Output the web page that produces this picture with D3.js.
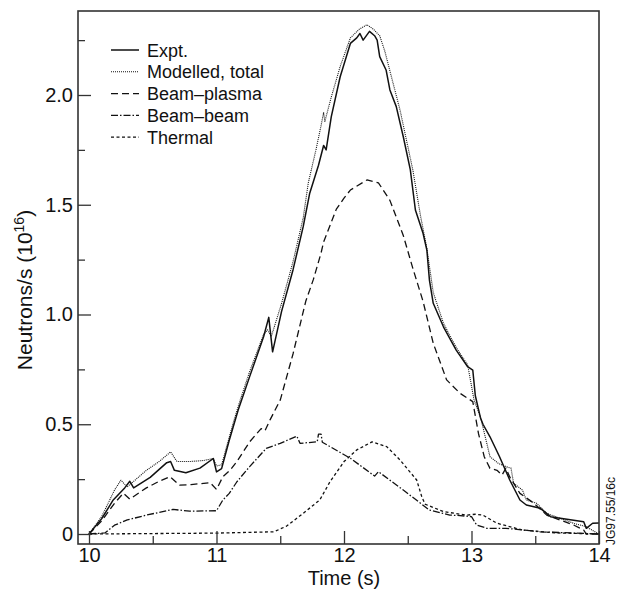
<!DOCTYPE html>
<html>
<head>
<meta charset="utf-8">
<script src="https://cdn.jsdelivr.net/npm/d3@7"></script>
<style>
body { margin: 0; background: #fff; }
text { font-family: "Liberation Sans", Arial, sans-serif; fill: #111; }
</style>
</head>
<body>
<script>
// neutron rate traces, [time (s), rate (1e16 /s)]
var expt = [[10.0,0],[10.1,0.07],[10.19,0.155],[10.28,0.21],[10.32,0.24],[10.35,0.21],[10.48,0.258],
  [10.61,0.325],[10.64,0.33],[10.67,0.29],[10.76,0.279],[10.87,0.3],[10.975,0.344],[11.0,0.283],
  [11.04,0.298],[11.1,0.427],[11.17,0.565],[11.26,0.717],[11.37,0.9],[11.41,0.987],[11.44,0.83],
  [11.51,1.013],[11.6,1.203],[11.68,1.4],[11.73,1.55],[11.8,1.68],[11.84,1.77],[11.86,1.75],
  [11.9,1.9],[11.97,2.083],[12.05,2.235],[12.1,2.26],[12.125,2.28],[12.15,2.25],[12.2,2.29],
  [12.24,2.27],[12.26,2.25],[12.28,2.175],[12.33,2.114],[12.36,2.023],[12.41,1.947],[12.465,1.81],
  [12.52,1.66],[12.56,1.476],[12.62,1.37],[12.65,1.294],[12.67,1.157],[12.7,1.051],[12.78,0.944],
  [12.88,0.838],[12.97,0.762],[13.01,0.747],[13.03,0.63],[13.07,0.53],[13.09,0.5],[13.145,0.443],
  [13.22,0.352],[13.3,0.246],[13.38,0.155],[13.43,0.132],[13.54,0.117],[13.62,0.079],[13.67,0.074],
  [13.88,0.056],[13.9,0.026],[13.95,0.049],[14.0,0.05]];

var modelled = [[10.0,0],[10.1,0.08],[10.2,0.2],[10.25,0.245],[10.3,0.215],[10.35,0.24],[10.45,0.29],
  [10.55,0.33],[10.64,0.374],[10.69,0.33],[10.79,0.33],[10.9,0.335],[10.975,0.344],[11.0,0.31],
  [11.04,0.315],[11.13,0.504],[11.18,0.6],[11.26,0.74],[11.37,0.91],[11.4,0.93],[11.43,0.9],
  [11.51,1.05],[11.6,1.24],[11.68,1.44],[11.72,1.6],[11.78,1.75],[11.82,1.86],[11.84,1.92],
  [11.85,1.88],[11.9,1.99],[11.97,2.13],[12.05,2.26],[12.12,2.3],[12.18,2.32],[12.23,2.3],[12.28,2.27],
  [12.32,2.2],[12.36,2.11],[12.44,1.93],[12.54,1.658],[12.6,1.45],[12.65,1.3],[12.7,1.1],
  [12.78,0.96],[12.88,0.85],[12.97,0.77],[13.02,0.61],[13.07,0.534],[13.12,0.413],[13.145,0.352],
  [13.21,0.322],[13.27,0.307],[13.31,0.3],[13.33,0.231],[13.4,0.2],[13.43,0.155],[13.51,0.14],
  [13.59,0.094],[13.8,0.049],[13.9,0.033],[14.0,0.0]];

var beamPlasma = [[10.0,0],[10.1,0.06],[10.2,0.14],[10.27,0.186],[10.32,0.159],[10.45,0.21],
  [10.55,0.24],[10.635,0.261],[10.71,0.223],[10.8,0.225],[10.95,0.234],[11.0,0.203],[11.05,0.261],
  [11.106,0.29],[11.16,0.33],[11.26,0.42],[11.35,0.48],[11.38,0.47],[11.42,0.52],[11.5,0.61],
  [11.6,0.82],[11.7,1.06],[11.76,1.16],[11.82,1.28],[11.84,1.33],[11.94,1.48],[12.0,1.53],
  [12.05,1.567],[12.18,1.613],[12.27,1.6],[12.36,1.52],[12.465,1.36],[12.54,1.21],[12.62,1.06],
  [12.7,0.869],[12.805,0.702],[12.91,0.641],[13.01,0.603],[13.055,0.457],[13.1,0.352],
  [13.145,0.299],[13.2,0.29],[13.24,0.269],[13.27,0.3],[13.3,0.26],[13.38,0.185],[13.49,0.14],
  [13.59,0.086],[13.8,0.041],[13.88,0.018],[13.9,0],[14.0,0]];

var beamBeam = [[10.0,0],[10.125,0.005],[10.2,0.04],[10.3,0.064],[10.45,0.086],[10.66,0.112],
  [10.79,0.104],[11.0,0.106],[11.05,0.155],[11.1,0.185],[11.16,0.238],[11.26,0.307],[11.39,0.39],
  [11.5,0.413],[11.63,0.446],[11.655,0.413],[11.79,0.42],[11.8,0.455],[11.82,0.455],[11.83,0.418],
  [12.05,0.345],[12.24,0.264],[12.27,0.284],[12.465,0.2],[12.67,0.109],[12.83,0.086],[12.91,0.084],
  [13.0,0.079],[13.04,0.041],[13.12,0.026],[13.27,0.026],[13.54,0.01],[14.0,0]];

var thermal = [[10.0,0],[10.5,0.002],[11.0,0.004],[11.45,0.01],[11.55,0.036],[11.68,0.094],
  [11.81,0.155],[11.89,0.238],[12.0,0.33],[12.1,0.383],[12.22,0.42],[12.335,0.398],[12.44,0.337],
  [12.57,0.246],[12.61,0.17],[12.635,0.136],[12.78,0.102],[12.96,0.086],[13.03,0.09],[13.09,0.086],
  [13.2,0.049],[13.4,0.018],[13.67,0.005],[14.0,0]];

var legendNames = ["Expt.", "Modelled, total", "Beam\u2013plasma", "Beam\u2013beam", "Thermal"];

var xMajor = [10, 11, 12, 13, 14];
var xMinor = [10.5, 11.5, 12.5, 13.5];
var yMajor = [0, 0.5, 1.0, 1.5, 2.0];
var yMinor = [0.25, 0.75, 1.25, 1.75, 2.25];

var w = 621;
var h = 598;
var frame = {left: 78, right: 599, top: 11, bottom: 544};

var svg = d3.select("body")
    .append("svg")
    .attr("width", w)
    .attr("height", h);

var xScale = d3.scaleLinear()
    .domain([10, 14])
    .range([89, 599]);
var yScale = d3.scaleLinear()
    .domain([0, 2])
    .range([534, 95]);

// line styles, in legend order
var styles = [
  {data: expt, dash: null, width: 1.5},
  {data: modelled, dash: "1,1", width: 1.1},
  {data: beamPlasma, dash: "7,4", width: 1.3},
  {data: beamBeam, dash: "7,2,1.5,2", width: 1.3},
  {data: thermal, dash: "3,2.5", width: 1.3}
];

var line = d3.line()
    .x(function(d) { return xScale(d[0]); })
    .y(function(d) { return yScale(d[1]); });

svg.selectAll("path.trace")
    .data(styles)
    .enter()
    .append("path")
    .attr("class", "trace")
    .attr("d", function(s) { return line(s.data); })
    .attr("fill", "none")
    .attr("stroke", "#111")
    .attr("stroke-width", function(s) { return s.width; })
    .attr("stroke-dasharray", function(s) { return s.dash; })
    .attr("stroke-linejoin", "round");

// axes, ticks point inward
function styleAxis(g) {
  g.select(".domain").remove();
  g.selectAll("line").attr("stroke", "#333").attr("stroke-width", 1.3);
  g.selectAll("text").attr("font-size", "20px").attr("fill", "#111")
      .attr("font-family", "Liberation Sans, Arial, sans-serif");
}

svg.append("g")
    .attr("transform", "translate(" + frame.left + ",0)")
    .call(d3.axisLeft(yScale).tickValues(yMajor).tickSize(-13).tickPadding(5)
      .tickFormat(function(d) { return d === 0 ? "0" : d.toFixed(1); }))
    .call(styleAxis);
svg.append("g")
    .attr("transform", "translate(" + frame.left + ",0)")
    .call(d3.axisLeft(yScale).tickValues(yMinor).tickSize(-7).tickFormat(""))
    .call(styleAxis);

svg.append("g")
    .attr("transform", "translate(0," + frame.bottom + ")")
    .call(d3.axisBottom(xScale).tickValues(xMajor).tickSize(-13).tickPadding(4)
      .tickFormat(d3.format("d")))
    .call(styleAxis);
svg.append("g")
    .attr("transform", "translate(0," + frame.bottom + ")")
    .call(d3.axisBottom(xScale).tickValues(xMinor).tickSize(-8).tickFormat(""))
    .call(styleAxis);

// box round the plot
svg.append("rect")
    .attr("x", frame.left)
    .attr("y", frame.top)
    .attr("width", frame.right - frame.left)
    .attr("height", frame.bottom - frame.top)
    .attr("fill", "none")
    .attr("stroke", "#333")
    .attr("stroke-width", 1.6);

// axis titles
svg.append("text")
    .attr("x", xScale(12))
    .attr("y", 585)
    .attr("text-anchor", "middle")
    .attr("font-size", "20px")
    .text("Time (s)");

var yTitle = svg.append("text")
    .attr("transform", "translate(32,290) rotate(-90)")
    .attr("text-anchor", "middle")
    .attr("font-size", "21px");
yTitle.append("tspan").text("Neutrons/s (10");
yTitle.append("tspan").attr("font-size", "14px").attr("dy", -8).text("16");
yTitle.append("tspan").attr("dy", 8).text(")");

svg.append("text")
    .attr("transform", "translate(615,545) rotate(-90)")
    .attr("font-size", "12px")
    .text("JG97.55/16c");

// legend
var legend = svg.selectAll("g.legend")
    .data(styles)
    .enter()
    .append("g")
    .attr("class", "legend")
    .attr("transform", function(d, i) { return "translate(0," + (50 + i * 21.8) + ")"; });

legend.append("line")
    .attr("x1", 111)
    .attr("x2", 139)
    .attr("stroke", "#111")
    .attr("stroke-width", function(s) { return s.width; })
    .attr("stroke-dasharray", function(s) { return s.dash; });

legend.append("text")
    .attr("x", 147)
    .attr("y", 6.5)
    .attr("font-size", "18px")
    .text(function(d, i) { return legendNames[i]; });
</script>
</body>
</html>
